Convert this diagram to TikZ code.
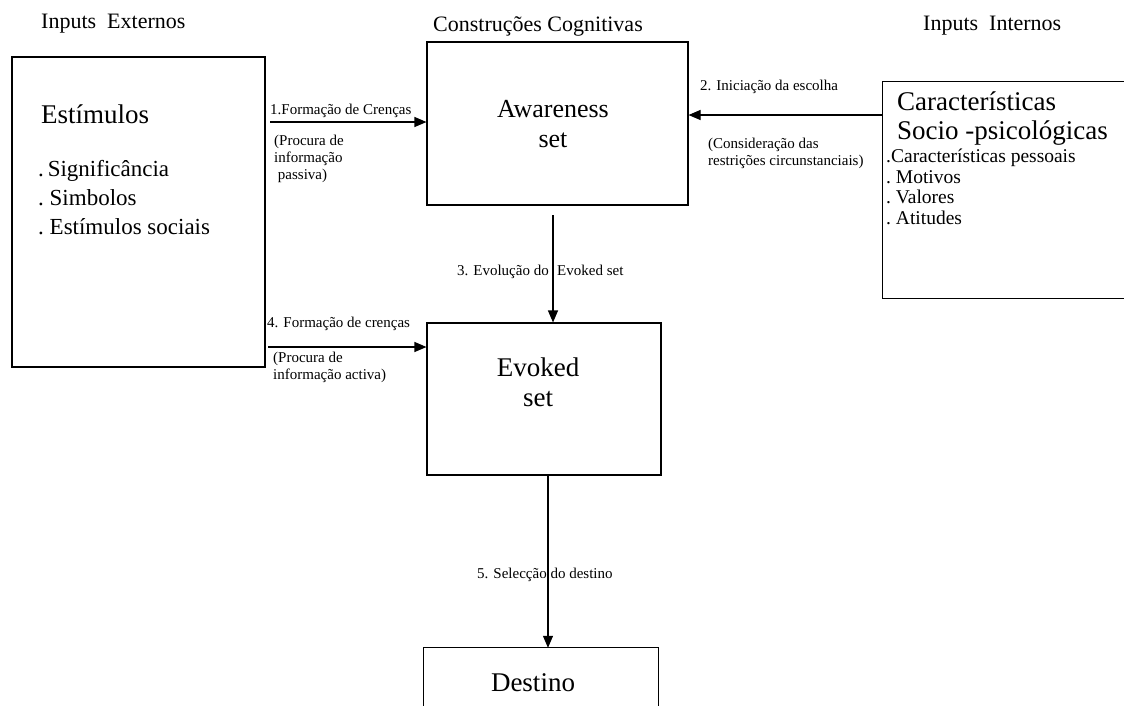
\documentclass[tikz,border=0pt]{standalone}
\usepackage{fontspec}
\setmainfont{Liberation Serif}
\usetikzlibrary{arrows.meta}
\tikzset{
  box/.style={draw, line width=1.1pt, inner sep=0pt},
  edge/.style={line width=1.1pt},
  arr/.style={line width=1.1pt, -{Triangle[length=12pt,width=10pt]}},
  head/.style={font=\fontsize{22}{26}\selectfont, anchor=base west, inner sep=0pt},
  big/.style={font=\fontsize{27}{30}\selectfont, align=center, inner sep=0pt},
  item/.style={font=\fontsize{23}{29}\selectfont, anchor=base west, inner sep=0pt},
  ritem/.style={font=\fontsize{19.5}{23}\selectfont, anchor=base west, inner sep=0pt},
  lab/.style={font=\fontsize{15}{17}\selectfont, align=left, anchor=base west, inner sep=0pt},
}
\begin{document}
\begin{tikzpicture}[x=1pt,y=-1pt]
\useasboundingbox (0,0) rectangle (1124,705);
\node[head] (hext) at (41,28) {Inputs\ \ Externos};
\node[head] (hcog) at (433,31) {Construções Cognitivas};
\node[head] (hint) at (923,30) {Inputs\ \ Internos};

\node[box, minimum width=253, minimum height=310] (ext) at (138.5,212) {};
\node[box, minimum width=261, minimum height=163] (aw) at (557.5,123.5) {};
\node[box, minimum width=234, minimum height=152] (ev) at (544,399) {};
\node[minimum width=234, minimum height=62, inner sep=0pt] (dest) at (541,679) {};
\node[minimum width=242, minimum height=216, inner sep=0pt] (intl) at (1004,190) {};
\draw[edge] (dest.south west) |- (dest.north east) -- (dest.south east);
\draw[edge] (intl.north east) -| (intl.south west) -- (intl.south east);

\node[big, anchor=base west] (estim) at (41,123) {Estímulos};
\node[item] (sig) at (38,176) {.\,Significância};
\node[item] (simb) at (38,205) {.\ Simbolos};
\node[item] (soc) at (38,234) {.\ Estímulos sociais};

\node[big, font=\fontsize{26}{30}\selectfont, anchor=base] (awt) at (553,147) {Awareness\\set};
\node[big, anchor=base] (evt) at (538,406) {Evoked\\set};
\node[big, anchor=base] (dt) at (533,691) {Destino};

\node[big, anchor=base west] (car) at (897,110) {Características};
\node[big, anchor=base west] (socps) at (897,139) {Socio -psicológicas};
\node[ritem] (pess) at (886,162) {.Características pessoais};
\node[ritem] (mot) at (886,183) {.\ Motivos};
\node[ritem] (val) at (886,203) {.\ Valores};
\node[ritem] (att) at (886,224) {.\ Atitudes};

\coordinate (a1) at (270,122);
\coordinate (a2) at (intl.west |- 0,115);
\coordinate (a3) at (553,215);
\coordinate (a4) at (268,347);
\coordinate (a5) at (ev.south -| 548,0);
\draw[arr] (a1) -- (a1 -| aw.west);
\draw[arr] (a2) -- (a2 -| aw.east);
\draw[arr] (a3) -- (a3 |- ev.north);
\draw[arr] (a4) -- (a4 -| ev.west);

\node[lab] (l1) at (270,114) {1.Formação de Crenças};
\node[lab] (p1) at (274,179) {(Procura de\\informação\\\ passiva)};
\node[lab] (l2) at (700,90) {2. Iniciação da escolha};
\node[lab] (p2) at (708,165) {(Consideração das\\restrições circunstanciais)};
\node[lab, anchor=base east] (l3a) at (549,275) {3. Evolução do};
\node[lab] (l3b) at (557,275) {Evoked set};
\node[lab] (l4) at (267,327) {4. Formação de crenças};
\node[lab] (p4) at (273,379) {(Procura de\\informação activa)};
\node[lab] (l5) at (477,578) {5. Selecção do destino};
\draw[arr] (a5) -- (a5 |- dest.north);
\end{tikzpicture}
\end{document}
